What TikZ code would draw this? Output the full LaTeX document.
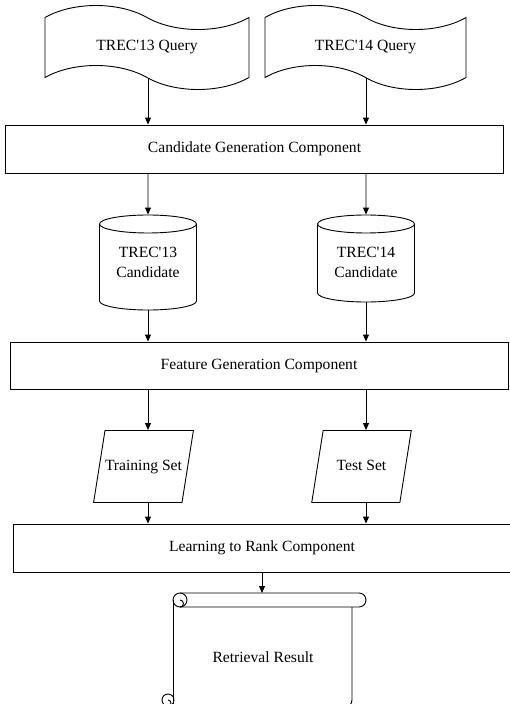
\documentclass[tikz,border=0pt]{standalone}
\usepackage{fontspec}
\setmainfont{Liberation Serif}
\usetikzlibrary{positioning,arrows.meta,shapes.geometric,shapes.symbols}

\begin{document}
\begin{tikzpicture}[
  x=1pt, y=-1pt,
  every node/.style={font=\fontsize{15.6}{19.5}\selectfont},
  query/.style={
    tape, draw, line width=0.9pt,
    tape bend top=out and in, tape bend bottom=out and in,
    tape bend height=24pt,
    minimum width=204pt, minimum height=84pt
  },
  component/.style={
    rectangle, draw, line width=0.9pt,
    minimum width=498pt, minimum height=47pt
  },
  candidate/.style={
    cylinder, draw, line width=0.9pt,
    shape border rotate=90, shape aspect=0.19,
    anchor=shape center, text width=88pt, minimum width=97pt
  },
  dataset/.style={
    trapezium, draw, line width=0.9pt,
    trapezium left angle=81, trapezium right angle=99,
    trapezium stretches body,
    text height=11pt, text depth=3.5pt,
    inner xsep=0pt, inner ysep=28.75pt, minimum width=99.5pt
  },
  arrow/.style={-{Triangle[length=7pt,width=6pt]}, line width=0.9pt}
]
\useasboundingbox (0,0) rectangle (509,704);

% =====================================================
% QUERIES
% =====================================================

\node[query] (q13) at (147,47.5) {TREC\textquotesingle13 Query};
\node[query, minimum width=201pt] (q14) at (365.5,47.5) {TREC\textquotesingle14 Query};

\node[component, minimum height=48pt] (candgen) at (254.5,149) {Candidate Generation Component};

% =====================================================
% CANDIDATES
% =====================================================

\node[candidate, minimum height=95pt] (c13) at (148,262.5) {};
\node[candidate, minimum height=87pt] (c14) at (366,258.5) {};
\node[align=center] (c13text) at (c13.shape center) {TREC\textquotesingle13\\Candidate};
\node[align=center] (c14text) at (c14 |- c13text) {TREC\textquotesingle14\\Candidate};

\draw[arrow] (q13.south -| c13) -- (candgen.north -| c13);
\draw[arrow] (q14.south -| c14) -- (candgen.north -| c14);
\draw[arrow] (candgen.south -| c13) -- (c13.north);
\draw[arrow] (candgen.south -| c14) -- (c14.north);

% =====================================================
% FEATURES
% =====================================================

\node[component] (featgen) at (259,365.5) {Feature Generation Component};

\node[dataset] (train) at (143.5,466.5) {Training Set};
\node[dataset] (test) at (361.5,466.5) {Test Set};

\draw[arrow] (c13.south) -- (featgen.north -| c13);
\draw[arrow] (c14.south) -- (featgen.north -| c14);
\draw[arrow] (featgen.south -| c13) -- (train.north -| c13);
\draw[arrow] (featgen.south -| c14) -- (test.north -| c14);

% =====================================================
% RANKING
% =====================================================

\node[component, minimum height=48pt] (ltr) at (262,548) {Learning to Rank Component};

\draw[arrow] (train.south -| c13) -- (ltr.north -| c13);
\draw[arrow] (test.south -| c14) -- (ltr.north -| c14);

% scroll for the result
\coordinate (scrolltop) at (262,593);
\node (result) at (263,657) {Retrieval Result};
\begin{scope}[line width=0.9pt]
  \clip (0,0) rectangle (509,704);
  \draw (180,593) -- (359,593) arc[start angle=-90, end angle=90, radius=7] -- (180,607);
  \draw (180,600) circle[radius=7];
  \draw (180,607) arc[start angle=90, end angle=-90, radius=3.5];
  \draw (173,600) -- (173,712);
  \draw (352,607) -- (352,700) arc[start angle=0, end angle=90, radius=7];
  \draw (168,700) circle[radius=6];
  \draw (168,706) arc[start angle=90, end angle=-90, radius=3];
\end{scope}

\draw[arrow] (ltr.south) -- (scrolltop);

\end{tikzpicture}
\end{document}
